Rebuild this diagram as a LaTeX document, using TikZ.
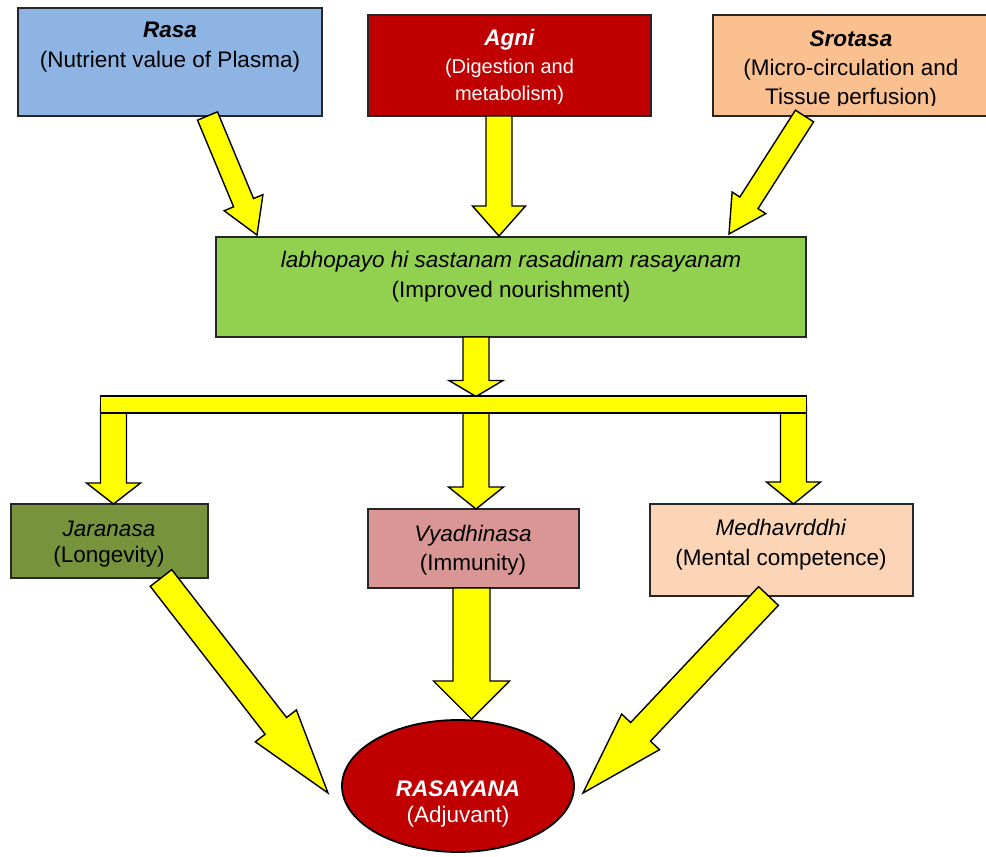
\documentclass[tikz,border=0pt]{standalone}
\usepackage{fontspec}
\setmainfont{Liberation Sans}
\usetikzlibrary{calc,shapes.geometric}
\definecolor{rasaC}{HTML}{8EB4E3}
\definecolor{agniC}{HTML}{C00000}
\definecolor{srotC}{HTML}{FAC090}
\definecolor{greenC}{HTML}{92D050}
\definecolor{jaraC}{HTML}{77933C}
\definecolor{vyadC}{HTML}{D99694}
\definecolor{medhC}{HTML}{FBD5B5}
\definecolor{yelC}{HTML}{FFFF00}
\newcommand\fatarrow[5]{%
  \path ($(#2)!#5!(#1)$) coordinate (fab);
  \draw[yarrow] ($(#1)!#3!90:(#2)$) -- ($(fab)!#3!90:(#2)$) -- ($(fab)!#4!90:(#2)$) -- (#2)
    -- ($(fab)!#4!-90:(#2)$) -- ($(fab)!#3!-90:(#2)$) -- ($(#1)!#3!-90:(#2)$) -- cycle;}
\begin{document}
\begin{tikzpicture}[x=0.5pt,y=-0.5pt,
  box/.style={draw=black!85, line width=0.9pt, inner sep=0pt, rectangle},
  txt/.style={align=center, inner sep=0pt, font=\fontsize{11.25}{15}\selectfont},
  yarrow/.style={fill=yelC, draw=black, line width=0.7pt, line join=miter}]
\useasboundingbox (0,0) rectangle (986,857);

% boxes
\node[box, fill=rasaC, minimum width=152pt, minimum height=54pt] (rasa) at (170,62) {};
\node[box, fill=agniC, minimum width=141.5pt, minimum height=50.5pt] (agni) at (509.5,65.5) {};
\node[box, fill=srotC, minimum width=138.5pt, minimum height=50.5pt] (srot) at (851.5,65.5) {};
\node[box, fill=greenC, minimum width=295pt, minimum height=50pt] (green) at (511,287) {};
\node[box, fill=jaraC, minimum width=98.5pt, minimum height=37pt] (jara) at (109.5,541) {};
\node[box, fill=vyadC, minimum width=105.5pt, minimum height=39.5pt] (vyad) at (473.5,548.5) {};
\node[box, fill=medhC, minimum width=131.5pt, minimum height=46pt] (medh) at (781.5,550) {};
\node[ellipse, draw=black, line width=0.9pt, fill=agniC, inner sep=0pt, minimum width=116pt, minimum height=66pt] (rasy) at (458,786) {};

% texts
\node[txt] (rasaT) at (170,47.5) {\textbf{\textit{Rasa}}\\(Nutrient value of Plasma)};
\node[txt, text=white, font=\fontsize{10}{13.75}\selectfont] (agniT) at (509.5,67) {{\fontsize{11.25}{13.75}\selectfont\textbf{\textit{Agni}}}\\(Digestion and\\metabolism)};
\begin{scope}
  \clip (713,14) rectangle (986,105);
  \node[txt, font=\fontsize{11.25}{14.5}\selectfont] (srotT) at (851,69.5) {\textbf{\textit{Srotasa}}\\(Micro-circulation and\\Tissue perfusion)};
\end{scope}
\node[txt] (greenT) at (511,277) {\textit{labhopayo hi sastanam rasadinam rasayanam}\\(Improved nourishment)};
\node[txt, font=\fontsize{11.25}{13}\selectfont] (jaraT) at (109,544) {\textit{Jaranasa}\\(Longevity)};
\node[txt, font=\fontsize{11.25}{14.5}\selectfont] (vyadT) at (473,550) {\textit{Vyadhinasa}\\(Immunity)};
\node[txt] (medhT) at (781,544.5) {\textit{Medhavrddhi}\\(Mental competence)};
\node[txt, text=white, font=\fontsize{11.25}{13}\selectfont] (rasyT) at (458,803.5) {\textbf{\textit{RASAYANA}}\\(Adjuvant)};

% arrow end points
\coordinate (rasaO) at (207.5,116);  \coordinate (greenI1) at (257,235);
\coordinate (agniO) at (499,116);    \coordinate (greenI2) at (499,236);
\coordinate (srotO) at (804.5,116);  \coordinate (greenI3) at (729,234);
\coordinate (greenO) at (476,337);   \coordinate (barI) at (476,396.5);
\coordinate (barO1) at (113.5,405);  \coordinate (jaraI) at (113.5,504);
\coordinate (barO2) at (476,405);    \coordinate (vyadI) at (476,509);
\coordinate (barO3) at (793.5,405);  \coordinate (medhI) at (793.5,504);
\coordinate (jaraO) at (161,578);    \coordinate (rasyI1) at (328,793);
\coordinate (vyadO) at (471.5,588);  \coordinate (rasyI2) at (471.5,719);
\coordinate (medhO) at (768.5,596);  \coordinate (rasyI3) at (583,793);

% arrows
\fatarrow{rasaO}{greenI1}{5.4pt}{10.5pt}{17.5pt}
\fatarrow{agniO}{greenI2}{6.5pt}{13.25pt}{15pt}
\fatarrow{srotO}{greenI3}{5.4pt}{10pt}{18.5pt}
\fatarrow{greenO}{barI}{6.5pt}{13.5pt}{8pt}
\fatarrow{barO1}{jaraI}{6.5pt}{13.5pt}{10.5pt}
\fatarrow{barO2}{vyadI}{6.5pt}{13.75pt}{11pt}
\fatarrow{barO3}{medhI}{6.5pt}{13.5pt}{11pt}
\fatarrow{jaraO}{rasyI1}{6.8pt}{13pt}{42.5pt}
\fatarrow{vyadO}{rasyI2}{9.25pt}{19pt}{19pt}
\fatarrow{medhO}{rasyI3}{6.8pt}{13pt}{42pt}

% distribution bar
\node[draw=black, line width=0.8pt, fill=yelC, inner sep=0pt, minimum width=353pt, minimum height=8.5pt] (bar) at (453.5,404.5) {};
\end{tikzpicture}
\end{document}
